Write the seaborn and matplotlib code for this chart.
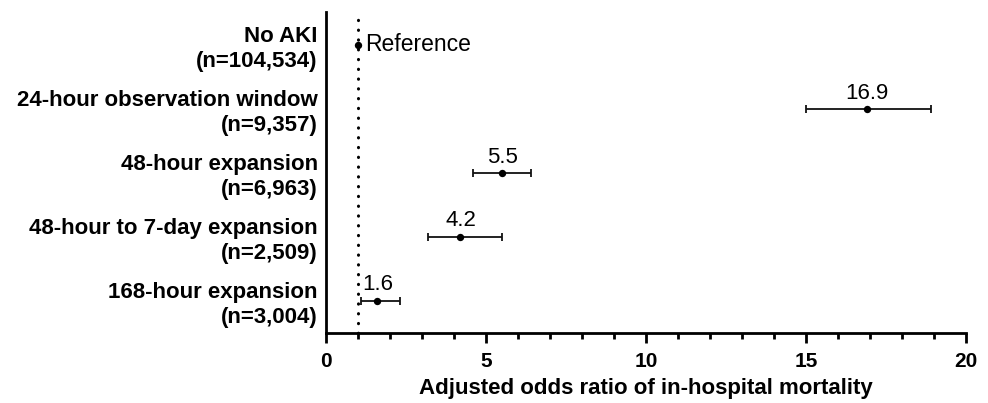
import numpy as np
import pandas as pd
import matplotlib.pyplot as plt
import seaborn as sns
from matplotlib.ticker import MultipleLocator

# data
groups = ['No AKI\n(n=104,534)',
          '24-hour observation window\n(n=9,357)',
          '48-hour expansion\n(n=6,963)',
          '48-hour to 7-day expansion\n(n=2,509)',
          '168-hour expansion\n(n=3,004)']
odds = [1.0, 16.9, 5.5, 4.2, 1.6]
ci_low = [1.0, 15.0, 4.6, 3.2, 1.1]
ci_high = [1.0, 18.9, 6.4, 5.5, 2.3]
labels = ['Reference', '16.9', '5.5', '4.2', '1.6']

df = pd.DataFrame({'group': groups, 'pos': np.arange(len(groups)),
                   'odds': odds, 'lo': ci_low, 'hi': ci_high, 'label': labels})

sns.set_style('white')
plt.rcParams['font.family'] = ['Liberation Sans', 'DejaVu Sans']
plt.rcParams['text.color'] = 'black'
plt.rcParams['xtick.color'] = 'black'
plt.rcParams['ytick.color'] = 'black'
plt.rcParams['axes.labelcolor'] = 'black'

fig = plt.figure(figsize=(9.88, 4.03), dpi=100)
ax = fig.add_axes([0.33, 0.174, 0.648, 0.797])

# reference line at OR = 1
ax.axvline(1, color='black', lw=2.2, linestyle=(0, (0.1, 3.1)),
           dash_capstyle='round', zorder=1)

# confidence intervals (skip reference row)
ci = df.iloc[1:]
ax.errorbar(ci['odds'], ci['pos'], xerr=[ci['odds'] - ci['lo'], ci['hi'] - ci['odds']],
            fmt='none', ecolor='#111111', elinewidth=1.3, capsize=2.6, capthick=1.3, zorder=2)

sns.scatterplot(data=df, x='odds', y='pos', color='black', s=28, edgecolor='black',
                linewidth=0, zorder=3, ax=ax, legend=False)

# value labels
for _, r in df.iterrows():
    if r['label'] == 'Reference':
        ax.annotate(r['label'], xy=(r['odds'], r['pos']), xytext=(5, 0),
                    textcoords='offset points', ha='left', va='center', fontsize=16.5)
    else:
        ax.annotate(r['label'], xy=(r['odds'], r['pos']), xytext=(0, 7.5),
                    textcoords='offset points', ha='center', va='baseline', fontsize=16)

ax.set_xlim(0, 20)
ax.set_ylim(4.5, -0.52)
ax.set_yticks(df['pos'])
ax.set_yticklabels(df['group'], fontsize=16, fontweight='bold', ha='right',
                   linespacing=1.2)
ax.tick_params(axis='y', length=0, pad=6)

ax.xaxis.set_major_locator(MultipleLocator(5))
ax.xaxis.set_minor_locator(MultipleLocator(1))
ax.tick_params(axis='x', which='major', length=7, width=2, direction='out',
               bottom=True, labelsize=15, pad=7)
ax.tick_params(axis='x', which='minor', length=4, width=2, direction='out', bottom=True)
for t in ax.get_xticklabels():
    t.set_fontweight('bold')

ax.set_xlabel('Adjusted odds ratio of in-hospital mortality', fontsize=16,
              fontweight='bold', labelpad=5)
ax.set_ylabel('')

for side in ['top', 'right']:
    ax.spines[side].set_visible(False)
for side in ['left', 'bottom']:
    ax.spines[side].set_linewidth(2)
    ax.spines[side].set_color('black')

plt.savefig('out.png', dpi=100)
